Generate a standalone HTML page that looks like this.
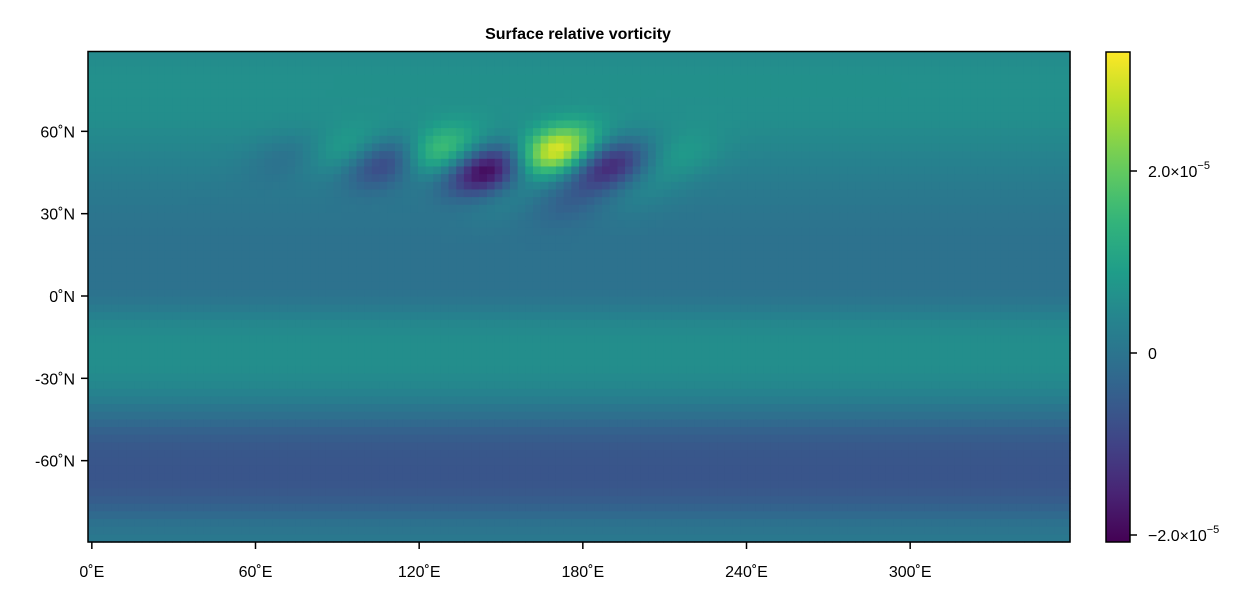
<!DOCTYPE html>
<html><head><meta charset="utf-8"><style>
body{margin:0;background:#fff;font-family:"Liberation Sans",sans-serif}
svg text{font-family:"Liberation Sans",sans-serif}
</style></head><body>
<svg id="c" width="1258" height="600" xmlns="http://www.w3.org/2000/svg">
<text x="578" y="39" text-anchor="middle" font-size="16" font-weight="bold">Surface relative vorticity</text>
<g id="heat"></g>
<rect x="88" y="51.5" width="982" height="490.5" fill="none" stroke="#000" stroke-width="1.5"/>
<g id="xax"></g>
<g id="yax"></g>
<defs><linearGradient id="cbg" x1="0" y1="1" x2="0" y2="0"></linearGradient></defs>
<rect x="1106" y="52" width="24" height="490" fill="url(#cbg)" stroke="#000" stroke-width="1.5"/>
<g id="cax"></g>
</svg>
<script>
// ---- data (values in 1e-5 s^-1) ----
const nLon = 128;
const lonStep = 2.8125;
// zonal-mean vorticity, 64 latitude rows from north to south
const zonalMean = [0.5,0.55,0.6,0.62,0.62,0.62,0.6,0.6,0.58,0.55,0.5,0.45,0.4,0.35,0.3,0.25,0.2,0.15,0.12,0.08,0.05,0.02,0,-0.02,-0.04,-0.05,-0.05,-0.04,
-0.05,-0.05,-0.04,-0.02,0.05,0.15,0.3,0.42,0.5,0.55,0.57,0.58,0.57,0.55,0.5,0.42,0.32,0.2,0.05,-0.1,-0.25,-0.4,-0.5,
-0.58,-0.62,-0.64,-0.65,-0.65,-0.63,-0.58,-0.5,-0.38,-0.22,-0.08,0.02,0.1];
// synoptic eddies
const blobLon = [72,93,108,127,145,170,190,215,150,175,200];
const blobLat = [51,53,49,53,46,53,48,51,37,35,39];
const blobAmp = [-0.4,0.6,-1.4,1.5,-2.4,2.8,-1.8,0.5,0.35,-0.45,0.3];
const xTicks = [0,60,120,180,240,300];
const yTicks = [60,30,0,-30,-60];
const cbTicks = [2,0,-2];
const cbLabels = ["2.0×10","0","−2.0×10"];
const vmin = -2.07, vmax = 3.31;

const NS="http://www.w3.org/2000/svg";
const X0=88,X1=1070,Y0=51.5,Y1=542;
const lonMin=-lonStep/2, lonMax=360-lonStep/2;
const xs=l=>X0+(l-lonMin)/(lonMax-lonMin)*(X1-X0);
const ys=la=>296-la*(82.33/30);
const cy=v=>353-v*(182/2);
const vir=[[68,1,84],[72,40,120],[62,74,137],[49,104,142],[38,130,142],[31,158,137],[53,183,121],[109,205,89],[180,222,44],[253,231,37]];
function col(v){let t=(v-vmin)/(vmax-vmin);t=Math.max(0,Math.min(1,t))*9;const i=Math.min(8,Math.floor(t)),f=t-i;
const c=vir[i].map((a,k)=>Math.round(a+(vir[i+1][k]-a)*f));return `rgb(${c})`;}
function mk(tag,at,p){const e=document.createElementNS(NS,tag);for(const k in at)e.setAttribute(k,at[k]);p.appendChild(e);return e;}

const heat=document.getElementById('heat');
const nLat=zonalMean.length;
const latTop=89.4, dLat=179.1/nLat;
for(let j=0;j<nLat;j++){
  const lat=latTop-(j+0.5)*dLat;
  for(let i=0;i<nLon;i++){
    const lon=i*lonStep;
    let v=zonalMean[j];
    for(let b=0;b<blobLon.length;b++){
      const dx=lon-blobLon[b], dy=lat-blobLat[b];
      const u=dx*0.9+dy*0.6, w=dy*0.92-dx*0.38;
      v+=blobAmp[b]*Math.exp(-(u*u)/(2*11*11)-(w*w)/(2*6*6));
    }
    const r=mk('rect',{x:xs(lon-lonStep/2).toFixed(2),y:(Y0+j*(Y1-Y0)/nLat).toFixed(2),width:((X1-X0)/nLon+0.6).toFixed(2),height:((Y1-Y0)/nLat+0.6).toFixed(2),fill:col(v)},heat);
    
    
  }
}
const xax=document.getElementById('xax');
xTicks.forEach(t=>{const x=xs(t);
  mk('line',{x1:x,x2:x,y1:542,y2:549,stroke:'#000','stroke-width':1.5},xax);
  const tx=mk('text',{x:x,y:577,'text-anchor':'middle','font-size':16},xax);tx.textContent=t+'˚E';
  
  });
const yax=document.getElementById('yax');
yTicks.forEach(t=>{const y=ys(t);
  mk('line',{x1:81,x2:88,y1:y,y2:y,stroke:'#000','stroke-width':1.5},yax);
  const tx=mk('text',{x:75,y:y+6,'text-anchor':'end','font-size':16},yax);tx.textContent=t+'˚N';
  
  });
const g=document.getElementById('cbg');
for(let k=0;k<=20;k++){const v=vmin+(vmax-vmin)*k/20;mk('stop',{offset:(k/20),'stop-color':col(v)},g);}
const cax=document.getElementById('cax');
cbTicks.forEach((t,i)=>{const y=cy(t);
  mk('line',{x1:1130,x2:1137,y1:y,y2:y,stroke:'#000','stroke-width':1.5},cax);
  const tx=mk('text',{x:1148,y:y+6,'font-size':16},cax);tx.textContent=cbLabels[i];
  if(t!==0){const s=mk('tspan',{dy:-8,'font-size':11},tx);s.textContent='−5';}
  
  });
</script>
</body></html>
